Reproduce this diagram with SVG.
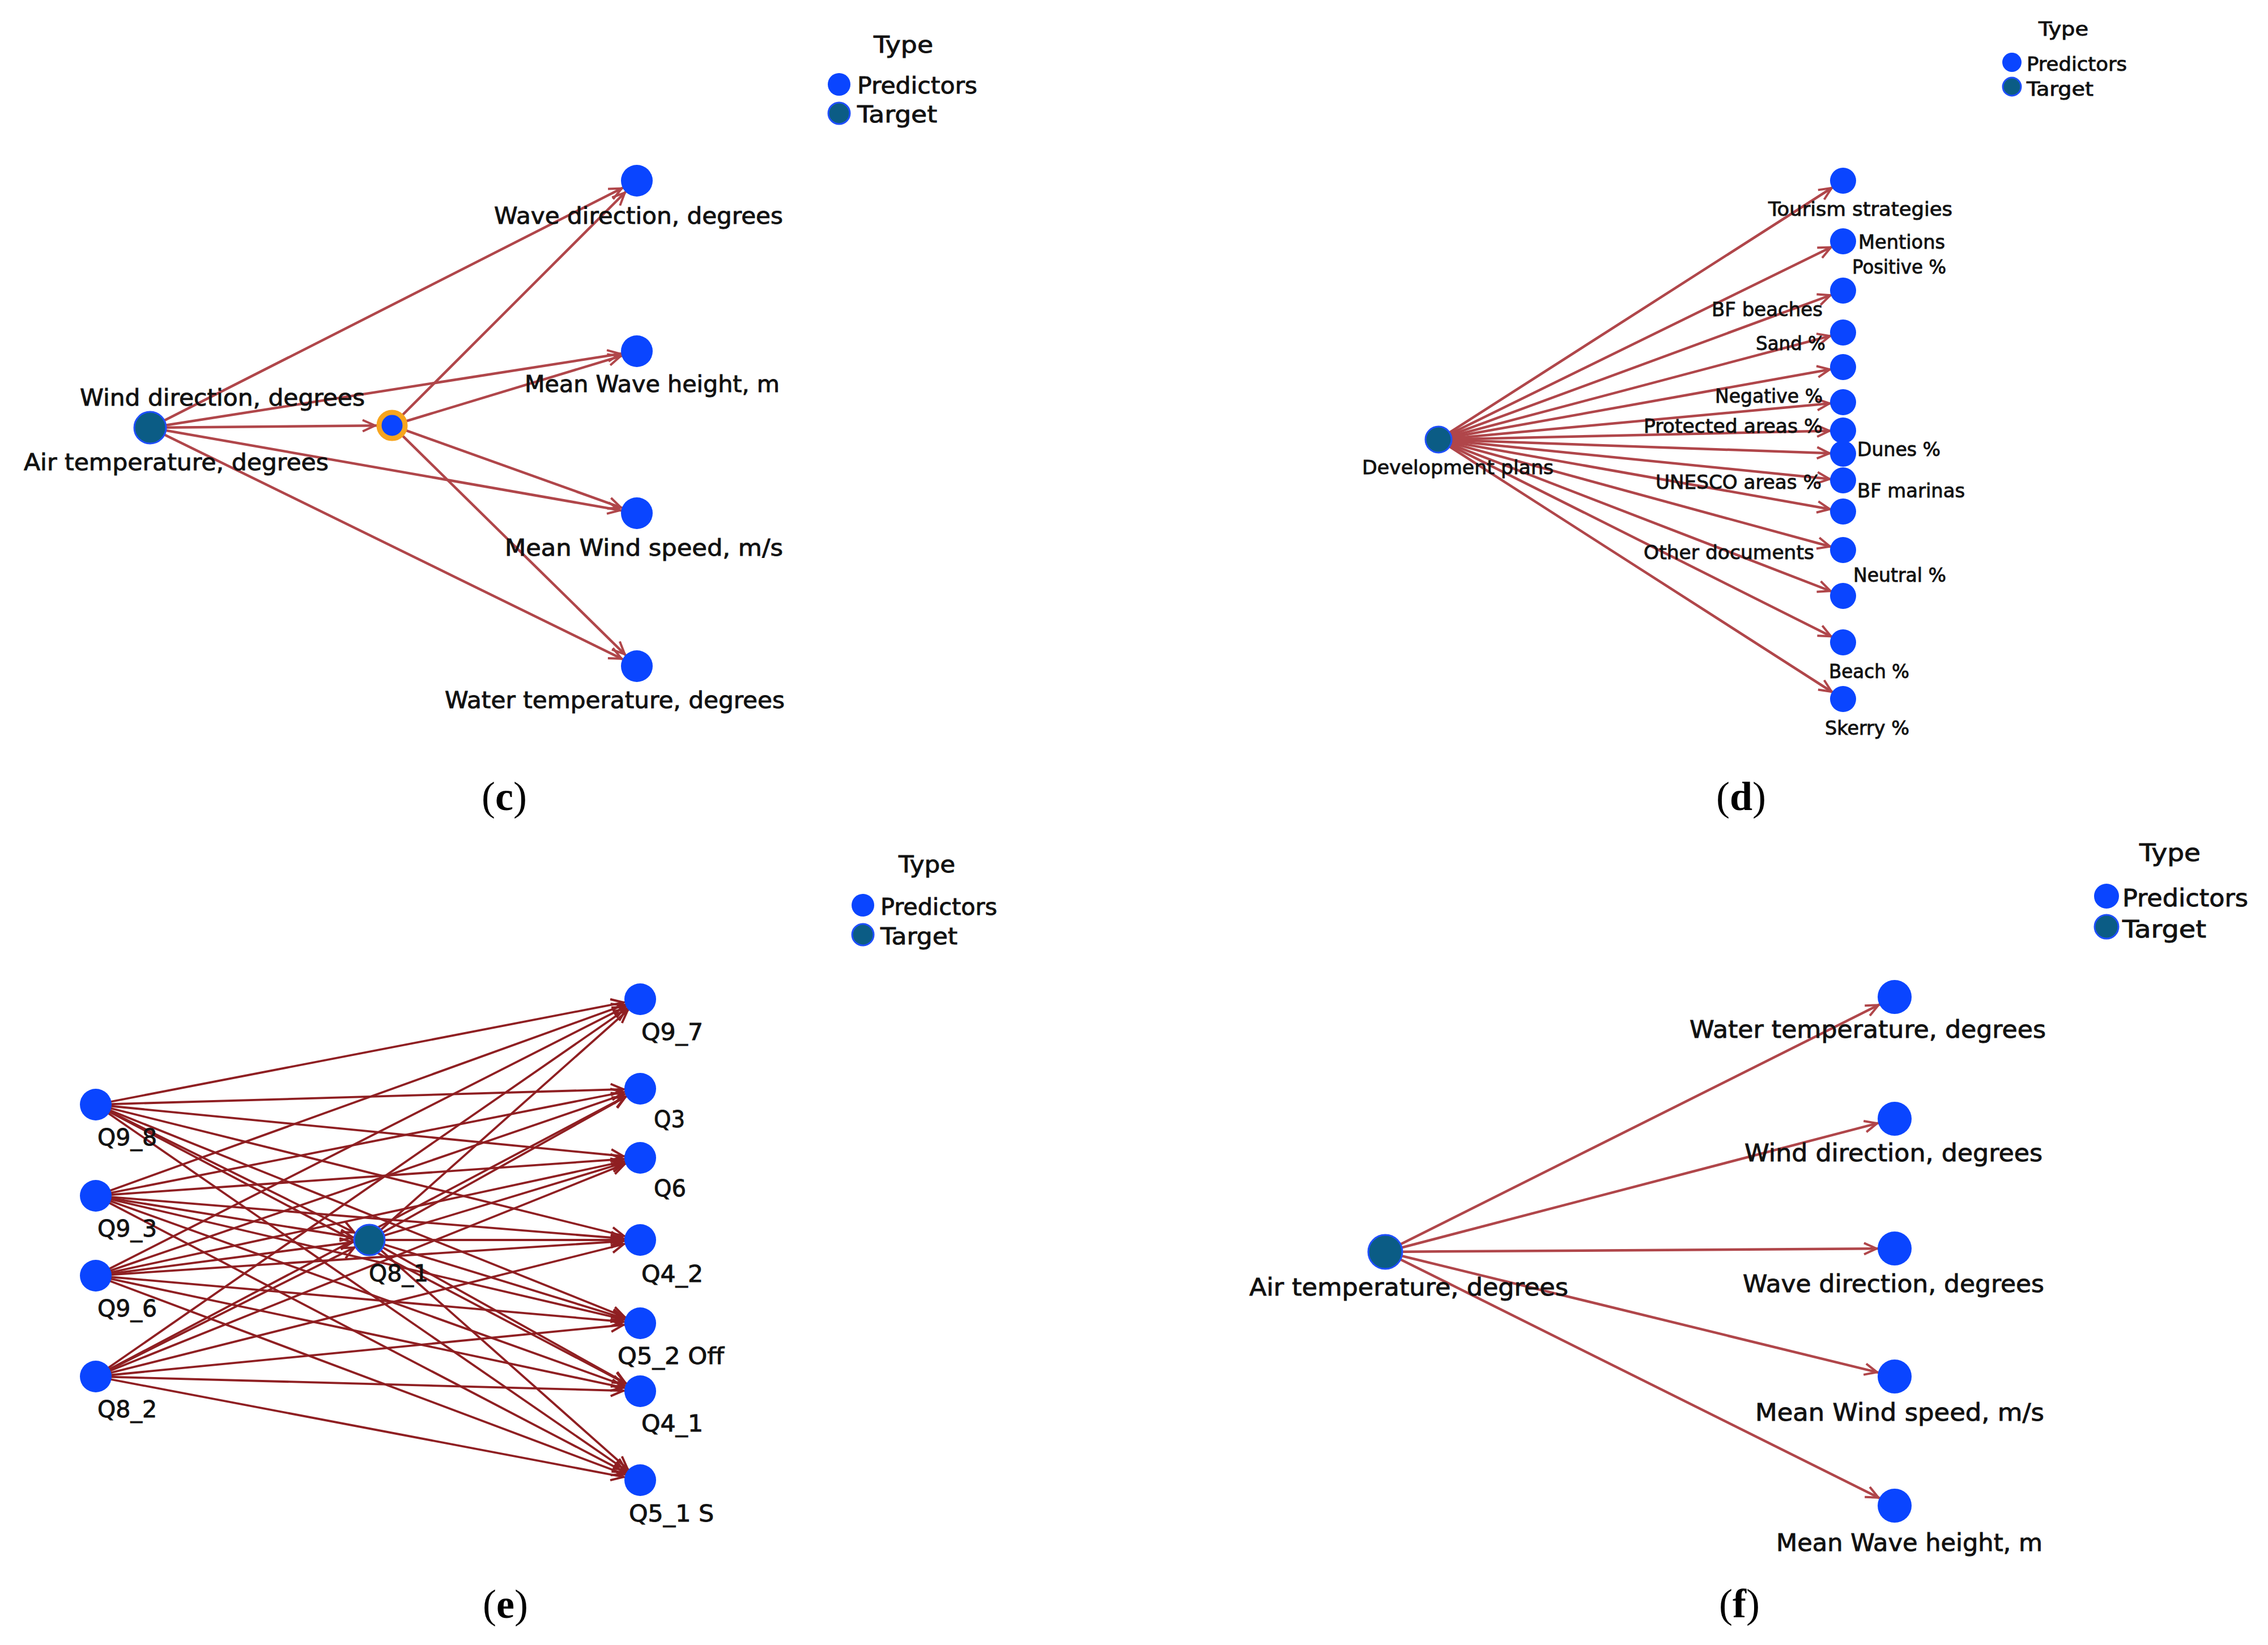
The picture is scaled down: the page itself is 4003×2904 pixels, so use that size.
<svg xmlns="http://www.w3.org/2000/svg" width="4003" height="2904" viewBox="0 0 4003 2904">
<style>
.t{font-family:"DejaVu Sans","Liberation Sans",sans-serif;fill:#111;stroke:#111;stroke-width:0.9px}
.tc{font-size:40px}
.td{font-size:34px}
.te{font-size:40px}
.tf{font-size:42px}
.pl{font-family:"Liberation Serif","Times New Roman",serif;font-size:72px;fill:#000}
.pred{fill:#0a45ff}
.targ{fill:#0b5c85;stroke:#1f4fff;stroke-width:3}
.mid{fill:#0a45ff;stroke:#f7a51e;stroke-width:9}
.e1{stroke:#b0464a;stroke-width:4.5;fill:none}
.e2{stroke:#8f1f22;stroke-width:3.8;fill:none}
</style>
<defs>
<marker id="aC" markerUnits="userSpaceOnUse" viewBox="0 0 26 24" markerWidth="26" markerHeight="24" refX="54" refY="12" orient="auto"><path d="M2,2 L24,12 L2,22" fill="none" stroke="#b0464a" stroke-width="4"/></marker>
<marker id="aM" markerUnits="userSpaceOnUse" viewBox="0 0 26 24" markerWidth="26" markerHeight="24" refX="54" refY="12" orient="auto"><path d="M2,2 L24,12 L2,22" fill="none" stroke="#b0464a" stroke-width="4"/></marker>
<marker id="aD" markerUnits="userSpaceOnUse" viewBox="0 0 26 24" markerWidth="26" markerHeight="24" refX="48" refY="12" orient="auto"><path d="M2,2 L24,12 L2,22" fill="none" stroke="#b0464a" stroke-width="4"/></marker>
<marker id="aE" markerUnits="userSpaceOnUse" viewBox="0 0 26 24" markerWidth="26" markerHeight="24" refX="54" refY="12" orient="auto"><path d="M2,2 L24,12 L2,22" fill="none" stroke="#8f1f22" stroke-width="4"/></marker>
<marker id="aF" markerUnits="userSpaceOnUse" viewBox="0 0 26 24" markerWidth="26" markerHeight="24" refX="56" refY="12" orient="auto"><path d="M2,2 L24,12 L2,22" fill="none" stroke="#b0464a" stroke-width="4"/></marker>
</defs>
<rect width="4003" height="2904" fill="#fff"/>

<g id="connectors">
 <g id="edges-c" class="e1" marker-end="url(#aC)">
  <line x1="265" y1="755" x2="1124" y2="319"/>
  <line x1="265" y1="755" x2="1124" y2="620"/>
  <line x1="265" y1="755" x2="1124" y2="906"/>
  <line x1="265" y1="755" x2="1124" y2="1176"/>
  <line x1="692" y1="751" x2="1124" y2="319"/>
  <line x1="692" y1="751" x2="1124" y2="620"/>
  <line x1="692" y1="751" x2="1124" y2="906"/>
  <line x1="692" y1="751" x2="1124" y2="1176"/>
  <line x1="265" y1="755" x2="692" y2="751" marker-end="url(#aM)"/>
 </g>
 <g id="edges-d" class="e1" marker-end="url(#aD)">
  <line x1="2539" y1="776" x2="3253" y2="319"/>
  <line x1="2539" y1="776" x2="3253" y2="426"/>
  <line x1="2539" y1="776" x2="3253" y2="513"/>
  <line x1="2539" y1="776" x2="3253" y2="587"/>
  <line x1="2539" y1="776" x2="3253" y2="648"/>
  <line x1="2539" y1="776" x2="3253" y2="710"/>
  <line x1="2539" y1="776" x2="3253" y2="760"/>
  <line x1="2539" y1="776" x2="3253" y2="801"/>
  <line x1="2539" y1="776" x2="3253" y2="848"/>
  <line x1="2539" y1="776" x2="3253" y2="903"/>
  <line x1="2539" y1="776" x2="3253" y2="971"/>
  <line x1="2539" y1="776" x2="3253" y2="1052"/>
  <line x1="2539" y1="776" x2="3253" y2="1134"/>
  <line x1="2539" y1="776" x2="3253" y2="1234"/>
 </g>
 <g id="edges-e" class="e2" marker-end="url(#aE)">
  <line x1="169" y1="1950" x2="1130" y2="1764"/>
  <line x1="169" y1="1950" x2="1130" y2="1922"/>
  <line x1="169" y1="1950" x2="1130" y2="2044"/>
  <line x1="169" y1="1950" x2="1130" y2="2189"/>
  <line x1="169" y1="1950" x2="1130" y2="2336"/>
  <line x1="169" y1="1950" x2="1130" y2="2456"/>
  <line x1="169" y1="1950" x2="1130" y2="2613"/>
  <line x1="169" y1="2111" x2="1130" y2="1764"/>
  <line x1="169" y1="2111" x2="1130" y2="1922"/>
  <line x1="169" y1="2111" x2="1130" y2="2044"/>
  <line x1="169" y1="2111" x2="1130" y2="2189"/>
  <line x1="169" y1="2111" x2="1130" y2="2336"/>
  <line x1="169" y1="2111" x2="1130" y2="2456"/>
  <line x1="169" y1="2111" x2="1130" y2="2613"/>
  <line x1="169" y1="2252" x2="1130" y2="1764"/>
  <line x1="169" y1="2252" x2="1130" y2="1922"/>
  <line x1="169" y1="2252" x2="1130" y2="2044"/>
  <line x1="169" y1="2252" x2="1130" y2="2189"/>
  <line x1="169" y1="2252" x2="1130" y2="2336"/>
  <line x1="169" y1="2252" x2="1130" y2="2456"/>
  <line x1="169" y1="2252" x2="1130" y2="2613"/>
  <line x1="169" y1="2430" x2="1130" y2="1764"/>
  <line x1="169" y1="2430" x2="1130" y2="1922"/>
  <line x1="169" y1="2430" x2="1130" y2="2044"/>
  <line x1="169" y1="2430" x2="1130" y2="2189"/>
  <line x1="169" y1="2430" x2="1130" y2="2336"/>
  <line x1="169" y1="2430" x2="1130" y2="2456"/>
  <line x1="169" y1="2430" x2="1130" y2="2613"/>
  <line x1="169" y1="1950" x2="652" y2="2189"/>
  <line x1="169" y1="2111" x2="652" y2="2189"/>
  <line x1="169" y1="2252" x2="652" y2="2189"/>
  <line x1="169" y1="2430" x2="652" y2="2189"/>
  <line x1="652" y1="2189" x2="1130" y2="1764"/>
  <line x1="652" y1="2189" x2="1130" y2="1922"/>
  <line x1="652" y1="2189" x2="1130" y2="2044"/>
  <line x1="652" y1="2189" x2="1130" y2="2189"/>
  <line x1="652" y1="2189" x2="1130" y2="2336"/>
  <line x1="652" y1="2189" x2="1130" y2="2456"/>
  <line x1="652" y1="2189" x2="1130" y2="2613"/>
 </g>
 <g id="edges-f" class="e1" marker-end="url(#aF)">
  <line x1="2445" y1="2210" x2="3344" y2="1760"/>
  <line x1="2445" y1="2210" x2="3344" y2="1975"/>
  <line x1="2445" y1="2210" x2="3344" y2="2204"/>
  <line x1="2445" y1="2210" x2="3344" y2="2430"/>
  <line x1="2445" y1="2210" x2="3344" y2="2658"/>
 </g>
</g>

<!-- Panel c -->
<g id="c-legend">
 <text class="t tc" x="1542" y="93" textLength="105" lengthAdjust="spacingAndGlyphs">Type</text>
 <circle class="pred" cx="1481" cy="149" r="20"/>
 <text class="t tc" x="1513" y="165" textLength="212" lengthAdjust="spacingAndGlyphs">Predictors</text>
 <circle class="targ" cx="1481" cy="200" r="19"/>
 <text class="t tc" x="1513" y="216" textLength="141" lengthAdjust="spacingAndGlyphs">Target</text>
</g>
<g id="c-target">
 <circle class="targ" cx="265" cy="755" r="28"/>
 <text class="t tc" x="141" y="716" textLength="503" lengthAdjust="spacingAndGlyphs">Wind direction, degrees</text>
 <text class="t tc" x="42" y="830" textLength="538" lengthAdjust="spacingAndGlyphs">Air temperature, degrees</text>
</g>
<g id="c-mid"><circle class="mid" cx="692" cy="751" r="23"/></g>
<g id="c-wavedir"><circle class="pred" cx="1124" cy="319" r="28"/><text class="t tc" x="872" y="395" textLength="510" lengthAdjust="spacingAndGlyphs">Wave direction, degrees</text></g>
<g id="c-waveheight"><circle class="pred" cx="1124" cy="620" r="28"/><text class="t tc" x="926" y="692" textLength="450" lengthAdjust="spacingAndGlyphs">Mean Wave height, m</text></g>
<g id="c-windspeed"><circle class="pred" cx="1124" cy="906" r="28"/><text class="t tc" x="891" y="981" textLength="491" lengthAdjust="spacingAndGlyphs">Mean Wind speed, m/s</text></g>
<g id="c-watertemp"><circle class="pred" cx="1124" cy="1176" r="28"/><text class="t tc" x="785" y="1250" textLength="600" lengthAdjust="spacingAndGlyphs">Water temperature, degrees</text></g>
<text class="pl" x="890" y="1430" text-anchor="middle">(<tspan font-weight="bold">c</tspan>)</text>

<!-- Panel d -->
<g id="d-legend">
 <text class="t td" x="3598" y="63" textLength="88" lengthAdjust="spacingAndGlyphs">Type</text>
 <circle class="pred" cx="3551" cy="110" r="17"/>
 <text class="t td" x="3577" y="125" textLength="177" lengthAdjust="spacingAndGlyphs">Predictors</text>
 <circle class="targ" cx="3551" cy="153" r="16"/>
 <text class="t td" x="3577" y="169" textLength="118" lengthAdjust="spacingAndGlyphs">Target</text>
</g>
<g id="d-target"><circle class="targ" cx="2539" cy="776" r="23"/><text class="t td" x="2404" y="837" textLength="338" lengthAdjust="spacingAndGlyphs">Development plans</text></g>
<g id="d-n1"><circle class="pred" cx="3253" cy="319" r="23"/></g>
<g id="d-n2"><circle class="pred" cx="3253" cy="426" r="23"/></g>
<g id="d-n3"><circle class="pred" cx="3253" cy="513" r="23"/></g>
<g id="d-n4"><circle class="pred" cx="3253" cy="587" r="23"/></g>
<g id="d-n5"><circle class="pred" cx="3253" cy="648" r="23"/></g>
<g id="d-n6"><circle class="pred" cx="3253" cy="710" r="23"/></g>
<g id="d-n7"><circle class="pred" cx="3253" cy="760" r="23"/></g>
<g id="d-n8"><circle class="pred" cx="3253" cy="801" r="23"/></g>
<g id="d-n9"><circle class="pred" cx="3253" cy="848" r="23"/></g>
<g id="d-n10"><circle class="pred" cx="3253" cy="903" r="23"/></g>
<g id="d-n11"><circle class="pred" cx="3253" cy="971" r="23"/></g>
<g id="d-n12"><circle class="pred" cx="3253" cy="1052" r="23"/></g>
<g id="d-n13"><circle class="pred" cx="3253" cy="1134" r="23"/></g>
<g id="d-n14"><circle class="pred" cx="3253" cy="1234" r="23"/></g>
<g id="d-labels">
 <text class="t td" x="3121" y="381" textLength="325" lengthAdjust="spacingAndGlyphs">Tourism strategies</text>
 <text class="t td" x="3280" y="439" textLength="153" lengthAdjust="spacingAndGlyphs">Mentions</text>
 <text class="t td" x="3269" y="483" textLength="166" lengthAdjust="spacingAndGlyphs">Positive %</text>
 <text class="t td" x="3021" y="558" textLength="196" lengthAdjust="spacingAndGlyphs">BF beaches</text>
 <text class="t td" x="3099" y="618" textLength="123" lengthAdjust="spacingAndGlyphs">Sand %</text>
 <text class="t td" x="3027" y="711" textLength="190" lengthAdjust="spacingAndGlyphs">Negative %</text>
 <text class="t td" x="2901" y="764" textLength="316" lengthAdjust="spacingAndGlyphs">Protected areas %</text>
 <text class="t td" x="3278" y="805" textLength="147" lengthAdjust="spacingAndGlyphs">Dunes %</text>
 <text class="t td" x="2922" y="863" textLength="293" lengthAdjust="spacingAndGlyphs">UNESCO areas %</text>
 <text class="t td" x="3278" y="878" textLength="190" lengthAdjust="spacingAndGlyphs">BF marinas</text>
 <text class="t td" x="2901" y="987" textLength="301" lengthAdjust="spacingAndGlyphs">Other documents</text>
 <text class="t td" x="3271" y="1027" textLength="164" lengthAdjust="spacingAndGlyphs">Neutral %</text>
 <text class="t td" x="3228" y="1197" textLength="142" lengthAdjust="spacingAndGlyphs">Beach %</text>
 <text class="t td" x="3221" y="1297" textLength="149" lengthAdjust="spacingAndGlyphs">Skerry %</text>
</g>
<text class="pl" x="3073" y="1430" text-anchor="middle">(<tspan font-weight="bold">d</tspan>)</text>

<!-- Panel e -->
<g id="e-legend">
 <text class="t te" x="1586" y="1540" textLength="100" lengthAdjust="spacingAndGlyphs">Type</text>
 <circle class="pred" cx="1523" cy="1598" r="20"/>
 <text class="t te" x="1554" y="1615" textLength="206" lengthAdjust="spacingAndGlyphs">Predictors</text>
 <circle class="targ" cx="1523" cy="1650" r="19"/>
 <text class="t te" x="1554" y="1667" textLength="136" lengthAdjust="spacingAndGlyphs">Target</text>
</g>
<g id="e-Q9_8"><circle class="pred" cx="169" cy="1950" r="28"/><text class="t te" x="172" y="2022" textLength="105" lengthAdjust="spacingAndGlyphs">Q9_8</text></g>
<g id="e-Q9_3"><circle class="pred" cx="169" cy="2111" r="28"/><text class="t te" x="172" y="2183" textLength="105" lengthAdjust="spacingAndGlyphs">Q9_3</text></g>
<g id="e-Q9_6"><circle class="pred" cx="169" cy="2252" r="28"/><text class="t te" x="172" y="2324" textLength="105" lengthAdjust="spacingAndGlyphs">Q9_6</text></g>
<g id="e-Q8_2"><circle class="pred" cx="169" cy="2430" r="28"/><text class="t te" x="172" y="2502" textLength="105" lengthAdjust="spacingAndGlyphs">Q8_2</text></g>
<g id="e-Q8_1"><circle class="targ" cx="652" cy="2189" r="27"/><text class="t te" x="651" y="2262" textLength="105" lengthAdjust="spacingAndGlyphs">Q8_1</text></g>
<g id="e-Q9_7"><circle class="pred" cx="1130" cy="1764" r="28"/><text class="t te" x="1132" y="1836" textLength="109" lengthAdjust="spacingAndGlyphs">Q9_7</text></g>
<g id="e-Q3"><circle class="pred" cx="1130" cy="1922" r="28"/><text class="t te" x="1154" y="1990" textLength="55" lengthAdjust="spacingAndGlyphs">Q3</text></g>
<g id="e-Q6"><circle class="pred" cx="1130" cy="2044" r="28"/><text class="t te" x="1154" y="2112" textLength="57" lengthAdjust="spacingAndGlyphs">Q6</text></g>
<g id="e-Q4_2"><circle class="pred" cx="1130" cy="2189" r="28"/><text class="t te" x="1132" y="2263" textLength="109" lengthAdjust="spacingAndGlyphs">Q4_2</text></g>
<g id="e-Q5_2"><circle class="pred" cx="1130" cy="2336" r="28"/><text class="t te" x="1090" y="2408" textLength="188" lengthAdjust="spacingAndGlyphs">Q5_2 Off</text></g>
<g id="e-Q4_1"><circle class="pred" cx="1130" cy="2456" r="28"/><text class="t te" x="1132" y="2527" textLength="109" lengthAdjust="spacingAndGlyphs">Q4_1</text></g>
<g id="e-Q5_1"><circle class="pred" cx="1130" cy="2613" r="28"/><text class="t te" x="1110" y="2686" textLength="150" lengthAdjust="spacingAndGlyphs">Q5_1 S</text></g>
<text class="pl" x="892" y="2856" text-anchor="middle">(<tspan font-weight="bold">e</tspan>)</text>

<!-- Panel f -->
<g id="f-legend">
 <text class="t tf" x="3776" y="1520" textLength="108" lengthAdjust="spacingAndGlyphs">Type</text>
 <circle class="pred" cx="3718" cy="1582" r="22"/>
 <text class="t tf" x="3746" y="1600" textLength="222" lengthAdjust="spacingAndGlyphs">Predictors</text>
 <circle class="targ" cx="3718" cy="1636" r="21"/>
 <text class="t tf" x="3746" y="1655" textLength="148" lengthAdjust="spacingAndGlyphs">Target</text>
</g>
<g id="f-target"><circle class="targ" cx="2445" cy="2210" r="30"/><text class="t tf" x="2205" y="2287" textLength="563" lengthAdjust="spacingAndGlyphs">Air temperature, degrees</text></g>
<g id="f-watertemp"><circle class="pred" cx="3344" cy="1760" r="30"/><text class="t tf" x="2982" y="1832" textLength="629" lengthAdjust="spacingAndGlyphs">Water temperature, degrees</text></g>
<g id="f-winddir"><circle class="pred" cx="3344" cy="1975" r="30"/><text class="t tf" x="3079" y="2050" textLength="526" lengthAdjust="spacingAndGlyphs">Wind direction, degrees</text></g>
<g id="f-wavedir"><circle class="pred" cx="3344" cy="2204" r="30"/><text class="t tf" x="3076" y="2281" textLength="532" lengthAdjust="spacingAndGlyphs">Wave direction, degrees</text></g>
<g id="f-windspeed"><circle class="pred" cx="3344" cy="2430" r="30"/><text class="t tf" x="3098" y="2508" textLength="510" lengthAdjust="spacingAndGlyphs">Mean Wind speed, m/s</text></g>
<g id="f-waveheight"><circle class="pred" cx="3344" cy="2658" r="30"/><text class="t tf" x="3135" y="2738" textLength="470" lengthAdjust="spacingAndGlyphs">Mean Wave height, m</text></g>
<text class="pl" x="3070" y="2855" text-anchor="middle">(<tspan font-weight="bold">f</tspan>)</text>
</svg>
